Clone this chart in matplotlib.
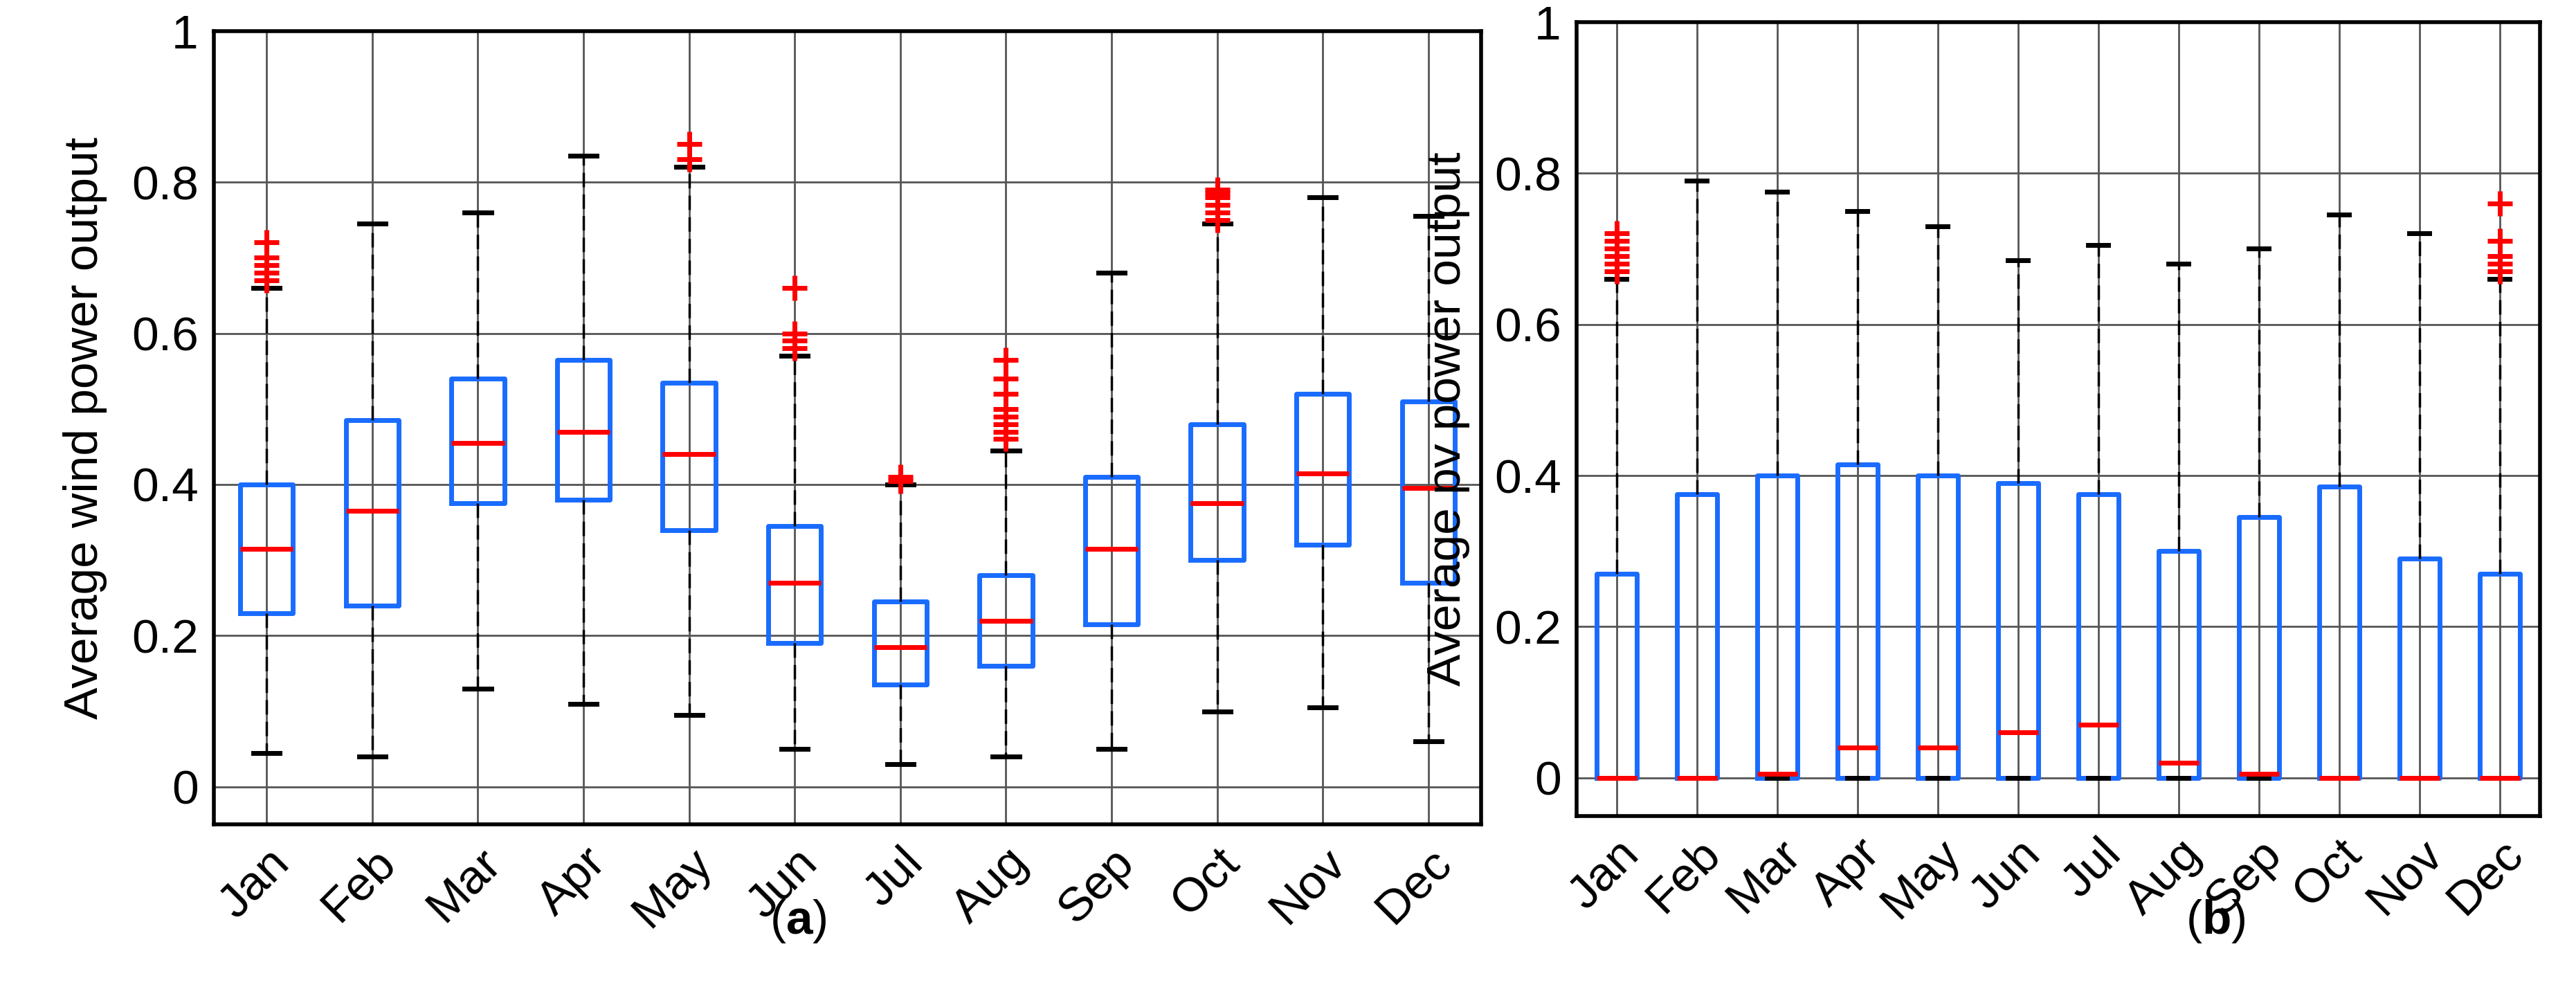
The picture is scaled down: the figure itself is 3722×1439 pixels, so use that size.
import numpy as np
import matplotlib.pyplot as plt

plt.rcParams['font.family'] = ['Liberation Sans', 'DejaVu Sans']
plt.rcParams['mathtext.fontset'] = 'custom'
plt.rcParams['mathtext.rm'] = 'Liberation Sans'
plt.rcParams['mathtext.bf'] = 'Liberation Sans:bold'

months = ['Jan', 'Feb', 'Mar', 'Apr', 'May', 'Jun', 'Jul', 'Aug', 'Sep', 'Oct', 'Nov', 'Dec']

# wind: low whisker, q1, median, q3, high whisker
wind_lo = [0.045, 0.04, 0.13, 0.11, 0.095, 0.05, 0.03, 0.04, 0.05, 0.10, 0.105, 0.06]
wind_q1 = [0.23, 0.24, 0.375, 0.38, 0.34, 0.19, 0.135, 0.16, 0.215, 0.30, 0.32, 0.27]
wind_med = [0.315, 0.365, 0.455, 0.47, 0.44, 0.27, 0.185, 0.22, 0.315, 0.375, 0.415, 0.395]
wind_q3 = [0.40, 0.485, 0.54, 0.565, 0.535, 0.345, 0.245, 0.28, 0.41, 0.48, 0.52, 0.51]
wind_hi = [0.66, 0.745, 0.76, 0.835, 0.82, 0.57, 0.40, 0.445, 0.68, 0.745, 0.78, 0.755]
wind_fl = [[0.67, 0.68, 0.69, 0.70, 0.72], [], [], [], [0.83, 0.85],
           [0.58, 0.59, 0.60, 0.66], [0.405, 0.41],
           [0.46, 0.47, 0.48, 0.49, 0.50, 0.52, 0.54, 0.565], [],
           [0.75, 0.76, 0.77, 0.78, 0.785, 0.79], [], []]

pv_lo = [0] * 12
pv_q1 = [0] * 12
pv_med = [0, 0, 0.005, 0.04, 0.04, 0.06, 0.07, 0.02, 0.005, 0, 0, 0]
pv_q3 = [0.27, 0.375, 0.40, 0.415, 0.40, 0.39, 0.375, 0.30, 0.345, 0.385, 0.29, 0.27]
pv_hi = [0.66, 0.79, 0.775, 0.75, 0.73, 0.685, 0.705, 0.68, 0.70, 0.745, 0.72, 0.66]
pv_fl = [[0.67, 0.68, 0.69, 0.70, 0.71, 0.72], [], [], [], [], [], [], [], [], [], [],
         [0.67, 0.68, 0.69, 0.71, 0.76]]


def stats(lo, q1, med, q3, hi, fl):
    return [dict(whislo=a, q1=b, med=c, q3=d, whishi=e, fliers=f, label=m)
            for a, b, c, d, e, f, m in zip(lo, q1, med, q3, hi, fl, months)]


def draw(ax, st, ylabel):
    ax.bxp(st, widths=0.5,
           boxprops=dict(color='#1a6cff', linewidth=5),
           medianprops=dict(color='#ff0000', linewidth=5),
           whiskerprops=dict(color='black', linestyle=(0, (6, 3)), linewidth=2.5),
           capprops=dict(color='black', linewidth=5),
           capwidths=0.25,
           flierprops=dict(marker='+', markeredgecolor='red', markersize=26, markeredgewidth=5))
    ax.set_ylim(-0.05, 1.0)
    ax.set_xlim(0.5, 12.5)
    ax.set_yticks([0, 0.2, 0.4, 0.6, 0.8, 1])
    ax.set_yticklabels(['0', '0.2', '0.4', '0.6', '0.8', '1'])
    ax.grid(True, color='#555555', linewidth=2)
    ax.set_axisbelow(True)
    ax.tick_params(labelsize=50, length=0, pad=16)
    ax.tick_params(axis='x', labelrotation=45)
    for lab in ax.get_xticklabels():
        lab.set_ha('right')
        lab.set_rotation_mode('anchor')
    ax.set_ylabel(ylabel, fontsize=50, labelpad=25)
    for s in ax.spines.values():
        s.set_linewidth(4)


fig = plt.figure(figsize=(37.22, 14.39), dpi=100)
ax1 = fig.add_axes([0.083, 0.172, 0.492, 0.797])
ax2 = fig.add_axes([0.612, 0.181, 0.374, 0.797])
draw(ax1, stats(wind_lo, wind_q1, wind_med, wind_q3, wind_hi, wind_fl), 'Average wind power output')
draw(ax2, stats(pv_lo, pv_q1, pv_med, pv_q3, pv_hi, pv_fl), 'Average pv power output')
fig.text(0.31, 0.075, r'($\mathbf{a}$)', fontsize=50, ha='center', va='center')
fig.text(0.86, 0.075, r'($\mathbf{b}$)', fontsize=50, ha='center', va='center')
fig.savefig('out.png', dpi=100)
